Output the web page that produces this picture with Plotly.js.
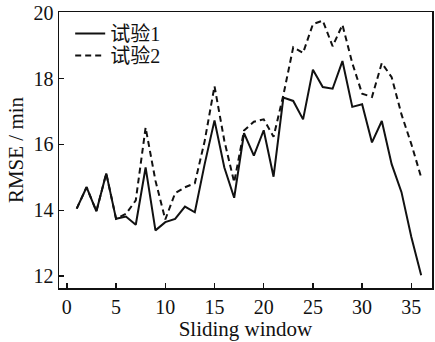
<!DOCTYPE html>
<html><head><meta charset="utf-8">
<script src="https://cdn.plot.ly/plotly-3.0.1.min.js"></script>
<style>html,body{margin:0;padding:0;background:#fff}#c{width:435px;height:342px}</style>
</head><body><div id="c"></div>
<script>
const windows = [1,2,3,4,5,6,7,8,9,10,11,12,13,14,15,16,17,18,19,20,21,22,23,24,25,26,27,28,29,30,31,32,33,34,35,36];
const trial1 = [14.05,14.70,13.97,15.12,13.74,13.81,13.56,15.30,13.39,13.64,13.74,14.11,13.94,15.4,16.73,15.30,14.38,16.34,15.66,16.43,15.02,17.42,17.32,16.76,18.27,17.74,17.69,18.53,17.14,17.22,16.06,16.71,15.40,14.55,13.19,12.03];
const trial2 = [14.05,14.70,13.97,15.12,13.74,13.89,14.30,16.51,14.9,13.72,14.52,14.70,14.82,16.1,17.77,16.11,14.85,16.42,16.69,16.76,16.23,17.5,18.95,18.78,19.65,19.76,18.98,19.63,18.47,17.54,17.44,18.47,18.04,16.91,16.01,15.0];
const names = ['试验1','试验2'];
const xTicks = [0,5,10,15,20,25,30,35];
const yTicks = [12,14,16,18,20];

const traces = [
  {x: windows, y: trial1, name: names[0], mode: 'lines', legend: 'legend', line: {color: '#111', width: 2, dash: 'solid'}},
  {x: windows, y: trial2, name: names[1], mode: 'lines', legend: 'legend2', line: {color: '#111', width: 2, dash: '6px,4px'}}
];
const fam = '"Liberation Serif", "Noto Sans CJK SC", serif';
const font = {family: fam, size: 20, color: '#111'};
const tfont = {family: fam, size: 21, color: '#111'};
const lfont = {family: fam, size: 20, color: '#111'};
const leg = (y) => ({x: 0.03, y: y, xanchor: 'left', yanchor: 'middle', bgcolor: 'rgba(0,0,0,0)', font: lfont, itemwidth: 30});
const layout = {
  width: 435, height: 342,
  margin: {l: 59, r: 3, t: 12, b: 54},
  paper_bgcolor: '#fff', plot_bgcolor: '#fff',
  font: font,
  showlegend: true,
  legend: leg(0.922),
  legend2: leg(0.842),
  xaxis: {range: [-0.8, 37.1], tickvals: xTicks, ticktext: xTicks.map(String), ticks: 'inside', ticklen: 5, tickwidth: 1.5, tickcolor: '#111',
    showline: true, linecolor: '#111', linewidth: 1.5, mirror: true, showgrid: false, zeroline: false, tickfont: font,
    title: {text: 'Sliding window', font: tfont, standoff: 2}},
  yaxis: {range: [11.64, 20.02], tickvals: yTicks, ticktext: yTicks.map(String), ticks: 'inside', ticklen: 5, tickwidth: 1.5, tickcolor: '#111',
    showline: true, linecolor: '#111', linewidth: 1.5, mirror: true, showgrid: false, zeroline: false, tickfont: font,
    title: {text: 'RMSE / min', font: tfont, standoff: 4}}
};
Plotly.newPlot('c', traces, layout, {displayModeBar: false, staticPlot: true});
</script></body></html>
